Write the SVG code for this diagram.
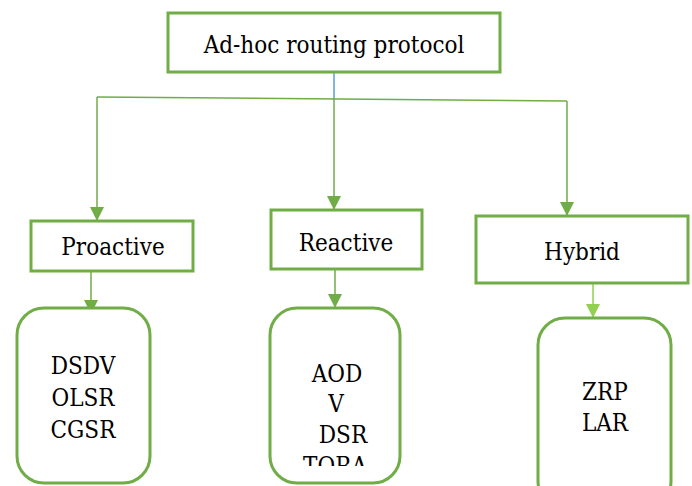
<svg xmlns="http://www.w3.org/2000/svg" width="692" height="486" viewBox="0 0 692 486">
  <style>
    .box { fill: #ffffff; stroke: #70AD47; stroke-width: 3; }
    .wire { fill: none; stroke: #70AD47; stroke-width: 1.5; }
  </style>
  <defs>
    <marker id="head" viewBox="0 0 10 10" refX="10" refY="5" markerWidth="14" markerHeight="14" markerUnits="userSpaceOnUse" orient="auto">
      <path d="M0,0 L10,5 L0,10 Z" fill="#70AD47"/>
    </marker>
    <marker id="headLight" viewBox="0 0 10 10" refX="10" refY="5" markerWidth="14" markerHeight="14" markerUnits="userSpaceOnUse" orient="auto">
      <path d="M0,0 L10,5 L0,10 Z" fill="#92D050"/>
    </marker>
    <clipPath id="clipReactive">
      <rect x="272" y="310" width="126" height="156"/>
    </clipPath>
  </defs>

  <rect width="692" height="486" fill="#ffffff"/>

  <!-- connectors -->
  <g id="connectors">
    <line x1="334" y1="72" x2="334" y2="100" stroke="#5B9BD5" stroke-width="1.5"/>
    <line class="wire" x1="97" y1="97" x2="567" y2="101"/>
    <line class="wire" x1="97" y1="97" x2="97" y2="221" marker-end="url(#head)"/>
    <line class="wire" x1="334" y1="99" x2="334" y2="210" marker-end="url(#head)"/>
    <line class="wire" x1="567" y1="101" x2="567" y2="216" marker-end="url(#head)"/>
    <line class="wire" x1="91" y1="271" x2="91" y2="314" marker-end="url(#head)"/>
    <line class="wire" x1="335" y1="269" x2="335" y2="308" marker-end="url(#head)"/>
    <line x1="593" y1="283" x2="593" y2="318" stroke="#92D050" stroke-width="1.5" marker-end="url(#headLight)"/>
  </g>

  <g font-family="'DejaVu Serif Condensed', 'DejaVu Serif', serif" font-stretch="condensed" font-size="24" fill="#000000" text-anchor="middle">
    <!-- root -->
    <g id="root">
      <rect class="box" x="168" y="13" width="332" height="59"/>
      <text x="334" y="53">Ad-hoc routing protocol</text>
    </g>

    <!-- categories -->
    <g id="proactive">
      <rect class="box" x="31" y="221" width="162" height="50"/>
      <text x="113" y="255">Proactive</text>
    </g>
    <g id="reactive">
      <rect class="box" x="271" y="210" width="151" height="59"/>
      <text x="346" y="251">Reactive</text>
    </g>
    <g id="hybrid">
      <rect class="box" x="476" y="216" width="212" height="67"/>
      <text x="582" y="260">Hybrid</text>
    </g>

    <!-- protocol lists -->
    <g id="proactive-list">
      <rect class="box" x="17" y="308" width="133" height="175" rx="27" ry="27"/>
      <text x="83" y="374">DSDV</text>
      <text x="83" y="406">OLSR</text>
      <text x="83" y="438">CGSR</text>
    </g>
    <g id="reactive-list">
      <rect class="box" x="270" y="308" width="130" height="175" rx="27" ry="27"/>
      <g clip-path="url(#clipReactive)">
        <text x="337" y="382">AOD</text>
        <text x="336" y="412">V</text>
        <text x="343" y="443">DSR</text>
        <text x="335" y="474">TORA</text>
      </g>
    </g>
    <g id="hybrid-list">
      <rect class="box" x="538" y="318" width="133" height="190" rx="27" ry="27"/>
      <text x="605" y="400">ZRP</text>
      <text x="605" y="431">LAR</text>
    </g>
  </g>
</svg>
